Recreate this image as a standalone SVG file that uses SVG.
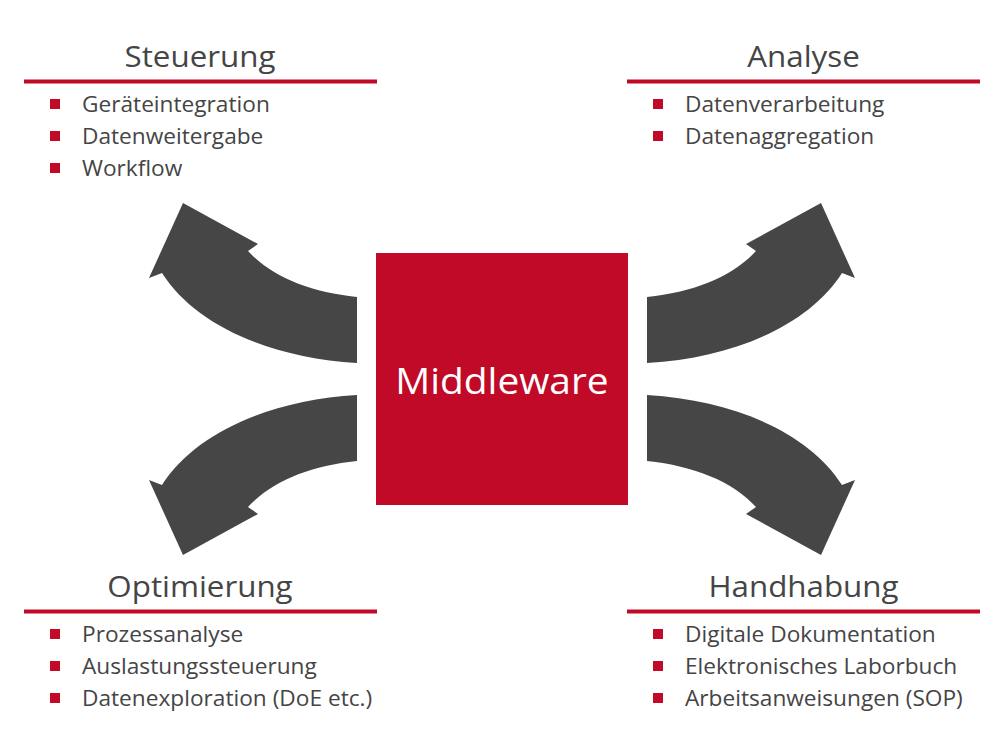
<svg xmlns="http://www.w3.org/2000/svg" xmlns:xlink="http://www.w3.org/1999/xlink" width="1000" height="750" viewBox="0 0 1000 750">
<style>
.title{font-family:"Open Sans","Liberation Sans",sans-serif;font-size:29px;fill:#454545;text-anchor:middle}
.item{font-family:"Open Sans","Liberation Sans",sans-serif;font-size:21px;fill:#454545}
.rule{fill:#c00a27}
.bullet{fill:#c00a27}
.arrow{fill:#464646}
.center{font-family:"Open Sans","Liberation Sans",sans-serif;font-size:36px;fill:#ffffff;text-anchor:middle}
</style>
<defs>
<path id="arr" d="M357,297 C310,292 272,277 248,251 L258,244 L183,203 L149,278 L162,273 C195,325 270,358 357,363 Z"/>
</defs>
<rect width="1000" height="750" fill="#ffffff"/>
<g id="connectors">
<use xlink:href="#arr" class="arrow"/>
<use xlink:href="#arr" class="arrow" transform="translate(1004,0) scale(-1,1)"/>
<use xlink:href="#arr" class="arrow" transform="translate(0,758) scale(1,-1)"/>
<use xlink:href="#arr" class="arrow" transform="translate(1004,758) scale(-1,-1)"/>
</g>
<g id="middleware">
<rect x="376" y="253" width="252" height="252" fill="#c00a27"/>
<text class="center" x="464.81" y="394" transform="scale(1.08,1)">Middleware</text>
</g>
<g id="steuerung">
<rect class="rule" x="24" y="79.5" width="353" height="4"/>
<rect class="bullet" x="50" y="99" width="10" height="10"/>
<rect class="bullet" x="50" y="131" width="10" height="10"/>
<rect class="bullet" x="50" y="163" width="10" height="10"/>
<g transform="scale(1.08,1)">
<text class="title" x="185.19" y="67">Steuerung</text>
<text class="item" x="75.93" y="112">Geräteintegration</text>
<text class="item" x="75.93" y="144">Datenweitergabe</text>
<text class="item" x="75.93" y="176">Workflow</text>
</g>
</g>
<g id="analyse">
<rect class="rule" x="627" y="79.5" width="353" height="4"/>
<rect class="bullet" x="653" y="99" width="10" height="10"/>
<rect class="bullet" x="653" y="131" width="10" height="10"/>
<g transform="scale(1.08,1)">
<text class="title" x="743.98" y="67">Analyse</text>
<text class="item" x="634.26" y="112">Datenverarbeitung</text>
<text class="item" x="634.26" y="144">Datenaggregation</text>
</g>
</g>
<g id="optimierung">
<rect class="rule" x="24" y="609.5" width="353" height="4"/>
<rect class="bullet" x="50" y="629" width="10" height="10"/>
<rect class="bullet" x="50" y="661" width="10" height="10"/>
<rect class="bullet" x="50" y="693" width="10" height="10"/>
<g transform="scale(1.08,1)">
<text class="title" x="185.19" y="597">Optimierung</text>
<text class="item" x="75.93" y="642">Prozessanalyse</text>
<text class="item" x="75.93" y="674">Auslastungssteuerung</text>
<text class="item" x="75.93" y="706">Datenexploration (DoE etc.)</text>
</g>
</g>
<g id="handhabung">
<rect class="rule" x="627" y="609.5" width="353" height="4"/>
<rect class="bullet" x="653" y="629" width="10" height="10"/>
<rect class="bullet" x="653" y="661" width="10" height="10"/>
<rect class="bullet" x="653" y="693" width="10" height="10"/>
<g transform="scale(1.08,1)">
<text class="title" x="743.98" y="597">Handhabung</text>
<text class="item" x="634.26" y="642">Digitale Dokumentation</text>
<text class="item" x="634.26" y="674">Elektronisches Laborbuch</text>
<text class="item" x="634.26" y="706">Arbeitsanweisungen (SOP)</text>
</g>
</g>
</svg>
